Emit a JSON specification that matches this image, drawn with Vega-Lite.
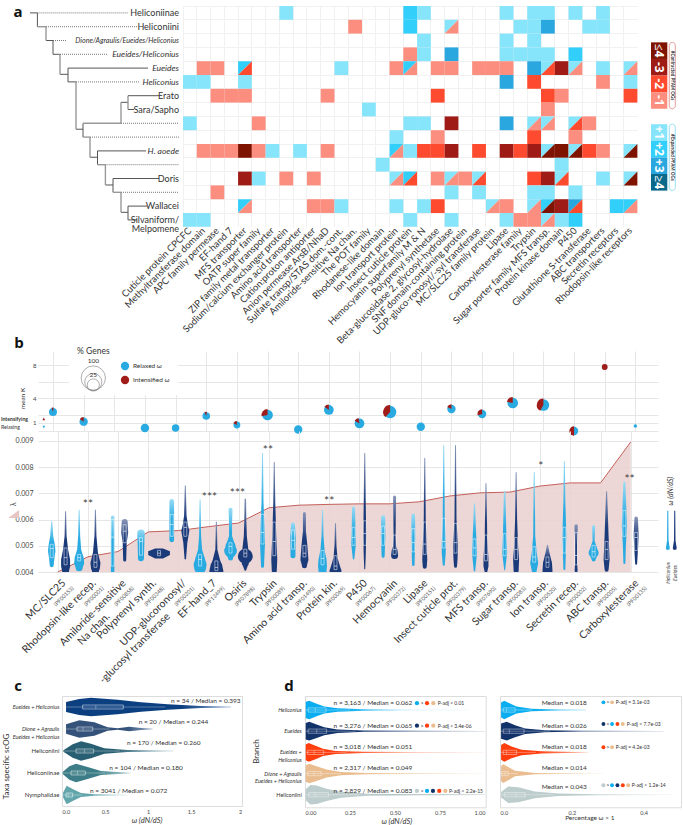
{"$schema":"https://vega.github.io/schema/vega-lite/v6.json","padding":{"left":0,"top":3,"right":0,"bottom":0},"background":"white","bounds":"flush","spacing":345,
"config":{"view":{"stroke":null},"text":{"font":"Lato","fill":"#333"},"axis":{"labelFont":"Lato","labelColor":"#444","title":null,"ticks":false,"domain":false}},
"datasets":{
"heat":[{"r":0,"c":7,"v":"+1","p":"s"},{"r":0,"c":16,"v":"+2","p":"s"},{"r":0,"c":17,"v":"+1","p":"s"},{"r":0,"c":23,"v":"+1","p":"s"},{"r":0,"c":25,"v":"+1","p":"s"},{"r":0,"c":26,"v":"+1","p":"s"},{"r":0,"c":28,"v":"+1","p":"s"},{"r":0,"c":30,"v":"+1","p":"s"},
{"r":1,"c":12,"v":"-1","p":"s"},{"r":1,"c":16,"v":"+2","p":"s"},{"r":1,"c":19,"v":"+1","p":"t"},{"r":1,"c":19,"v":"-1","p":"b"},{"r":1,"c":24,"v":"+1","p":"s"},{"r":1,"c":25,"v":"+1","p":"s"},{"r":1,"c":26,"v":"+3","p":"s"},{"r":1,"c":29,"v":"+1","p":"s"},{"r":1,"c":30,"v":"+1","p":"s"},
{"r":2,"c":17,"v":"+1","p":"s"},{"r":2,"c":23,"v":"+1","p":"s"},{"r":2,"c":25,"v":"+1","p":"s"},
{"r":3,"c":16,"v":"-1","p":"s"},{"r":3,"c":17,"v":"+1","p":"s"},{"r":3,"c":19,"v":"+3","p":"s"},{"r":3,"c":23,"v":"+1","p":"s"},{"r":3,"c":24,"v":"+1","p":"s"},{"r":3,"c":25,"v":"+1","p":"s"},{"r":3,"c":26,"v":"+1","p":"s"},{"r":3,"c":28,"v":"+2","p":"s"},
{"r":4,"c":1,"v":"-1","p":"s"},{"r":4,"c":2,"v":"-1","p":"s"},{"r":4,"c":4,"v":"+2","p":"t"},{"r":4,"c":4,"v":"-2","p":"b"},{"r":4,"c":11,"v":"+1","p":"s"},{"r":4,"c":15,"v":"-1","p":"s"},{"r":4,"c":16,"v":"+2","p":"t"},{"r":4,"c":16,"v":"-1","p":"b"},{"r":4,"c":18,"v":"-1","p":"s"},{"r":4,"c":19,"v":"-1","p":"s"},{"r":4,"c":21,"v":"-1","p":"s"},{"r":4,"c":22,"v":"-1","p":"s"},{"r":4,"c":23,"v":"-1","p":"s"},{"r":4,"c":25,"v":"+3","p":"s"},{"r":4,"c":26,"v":"+1","p":"t"},{"r":4,"c":26,"v":"-2","p":"b"},{"r":4,"c":27,"v":"-3","p":"s"},{"r":4,"c":28,"v":"+1","p":"t"},{"r":4,"c":28,"v":"-1","p":"b"},{"r":4,"c":30,"v":"+1","p":"s"},{"r":4,"c":32,"v":"+1","p":"t"},{"r":4,"c":32,"v":"-1","p":"b"},
{"r":5,"c":0,"v":"+1","p":"s"},{"r":5,"c":1,"v":"+1","p":"s"},{"r":5,"c":4,"v":"+1","p":"s"},{"r":5,"c":23,"v":"+3","p":"s"},{"r":5,"c":25,"v":"-2","p":"s"},{"r":5,"c":30,"v":"-1","p":"s"},{"r":5,"c":32,"v":"+1","p":"s"},
{"r":6,"c":2,"v":"-1","p":"s"},{"r":6,"c":3,"v":"-1","p":"s"},{"r":6,"c":4,"v":"-1","p":"s"},{"r":6,"c":10,"v":"-1","p":"s"},{"r":6,"c":18,"v":"-2","p":"s"},{"r":6,"c":26,"v":"-2","p":"s"},{"r":6,"c":27,"v":"-1","p":"s"},{"r":6,"c":32,"v":"-2","p":"s"},
{"r":7,"c":13,"v":"+1","p":"s"},{"r":7,"c":26,"v":"-1","p":"s"},
{"r":8,"c":0,"v":"+1","p":"s"},{"r":8,"c":5,"v":"-1","p":"s"},{"r":8,"c":16,"v":"+1","p":"s"},{"r":8,"c":17,"v":"+1","p":"s"},{"r":8,"c":19,"v":"-3","p":"s"},{"r":8,"c":23,"v":"+3","p":"s"},{"r":8,"c":25,"v":"+1","p":"t"},{"r":8,"c":25,"v":"-1","p":"b"},{"r":8,"c":26,"v":"+1","p":"t"},{"r":8,"c":26,"v":"-1","p":"b"},{"r":8,"c":28,"v":"+1","p":"t"},{"r":8,"c":28,"v":"-2","p":"b"},{"r":8,"c":29,"v":"-1","p":"s"},
{"r":9,"c":15,"v":"+1","p":"s"},{"r":9,"c":18,"v":"-1","p":"s"},{"r":9,"c":25,"v":"-2","p":"s"},{"r":9,"c":28,"v":"-1","p":"s"},
{"r":10,"c":1,"v":"-1","p":"s"},{"r":10,"c":2,"v":"-1","p":"s"},{"r":10,"c":3,"v":"-1","p":"s"},{"r":10,"c":4,"v":"-4","p":"s"},{"r":10,"c":5,"v":"-1","p":"s"},{"r":10,"c":6,"v":"+1","p":"s"},{"r":10,"c":8,"v":"+1","p":"s"},{"r":10,"c":10,"v":"-1","p":"s"},{"r":10,"c":15,"v":"+2","p":"t"},{"r":10,"c":15,"v":"-1","p":"b"},{"r":10,"c":16,"v":"+1","p":"s"},{"r":10,"c":17,"v":"-2","p":"s"},{"r":10,"c":18,"v":"-2","p":"s"},{"r":10,"c":19,"v":"-3","p":"s"},{"r":10,"c":21,"v":"-2","p":"s"},{"r":10,"c":23,"v":"-3","p":"s"},{"r":10,"c":24,"v":"-2","p":"s"},{"r":10,"c":25,"v":"-3","p":"s"},{"r":10,"c":26,"v":"+1","p":"t"},{"r":10,"c":26,"v":"-4","p":"b"},{"r":10,"c":27,"v":"-4","p":"s"},{"r":10,"c":28,"v":"+1","p":"t"},{"r":10,"c":28,"v":"-4","p":"b"},{"r":10,"c":29,"v":"-2","p":"s"},{"r":10,"c":30,"v":"-1","p":"s"},{"r":10,"c":32,"v":"+1","p":"t"},{"r":10,"c":32,"v":"-4","p":"b"},
{"r":11,"c":14,"v":"+1","p":"s"},{"r":11,"c":27,"v":"+1","p":"s"},
{"r":12,"c":4,"v":"-3","p":"s"},{"r":12,"c":5,"v":"+1","p":"s"},{"r":12,"c":7,"v":"-1","p":"s"},{"r":12,"c":9,"v":"-1","p":"s"},{"r":12,"c":15,"v":"+1","p":"t"},{"r":12,"c":15,"v":"-1","p":"b"},{"r":12,"c":16,"v":"+2","p":"t"},{"r":12,"c":16,"v":"-2","p":"b"},{"r":12,"c":18,"v":"-1","p":"s"},{"r":12,"c":19,"v":"+1","p":"t"},{"r":12,"c":19,"v":"-1","p":"b"},{"r":12,"c":20,"v":"-1","p":"s"},{"r":12,"c":21,"v":"+1","p":"t"},{"r":12,"c":21,"v":"-2","p":"b"},{"r":12,"c":25,"v":"-2","p":"s"},{"r":12,"c":26,"v":"-3","p":"s"},{"r":12,"c":27,"v":"+1","p":"t"},{"r":12,"c":27,"v":"-2","p":"b"},{"r":12,"c":30,"v":"+1","p":"s"},{"r":12,"c":32,"v":"+1","p":"t"},{"r":12,"c":32,"v":"-4","p":"b"},
{"r":13,"c":2,"v":"-1","p":"s"},{"r":13,"c":19,"v":"+1","p":"s"},{"r":13,"c":21,"v":"+1","p":"s"},{"r":13,"c":25,"v":"+1","p":"s"},{"r":13,"c":26,"v":"+1","p":"s"},{"r":13,"c":28,"v":"+1","p":"s"},
{"r":14,"c":4,"v":"+2","p":"t"},{"r":14,"c":4,"v":"-1","p":"b"},{"r":14,"c":9,"v":"-1","p":"s"},{"r":14,"c":10,"v":"-1","p":"s"},{"r":14,"c":11,"v":"+1","p":"s"},{"r":14,"c":15,"v":"+1","p":"s"},{"r":14,"c":17,"v":"+1","p":"s"},{"r":14,"c":18,"v":"-2","p":"s"},{"r":14,"c":22,"v":"+1","p":"t"},{"r":14,"c":22,"v":"-1","p":"b"},{"r":14,"c":23,"v":"-1","p":"s"},{"r":14,"c":25,"v":"+1","p":"t"},{"r":14,"c":25,"v":"-1","p":"b"},{"r":14,"c":26,"v":"+2","p":"t"},{"r":14,"c":26,"v":"-4","p":"b"},{"r":14,"c":27,"v":"-3","p":"s"},{"r":14,"c":28,"v":"+3","p":"t"},{"r":14,"c":28,"v":"-2","p":"b"},{"r":14,"c":31,"v":"+2","p":"s"},{"r":14,"c":32,"v":"+2","p":"t"},{"r":14,"c":32,"v":"-1","p":"b"},
{"r":15,"c":0,"v":"+1","p":"s"},{"r":15,"c":1,"v":"+1","p":"s"},{"r":15,"c":16,"v":"+1","p":"s"},{"r":15,"c":19,"v":"+1","p":"s"},{"r":15,"c":23,"v":"+1","p":"s"},{"r":15,"c":24,"v":"-1","p":"s"},{"r":15,"c":25,"v":"-1","p":"s"},{"r":15,"c":26,"v":"+1","p":"t"},{"r":15,"c":26,"v":"-1","p":"b"},{"r":15,"c":27,"v":"+1","p":"s"},{"r":15,"c":28,"v":"+2","p":"s"}],
"tree":[{"x":29,"x2":36.4,"y":0,"y2":0,"k":"d"},{"x":36.4,"x2":36.4,"y":0,"y2":1,"k":"d"},{"x":36.4,"x2":127,"y":0,"y2":0,"k":"o"},{"x":36.4,"x2":45,"y":1,"y2":1,"k":"g"},{"x":45,"x2":136,"y":1,"y2":1,"k":"o"},{"x":45,"x2":45,"y":1,"y2":2,"k":"g"},{"x":45,"x2":52,"y":2,"y2":2,"k":"d"},{"x":52,"x2":66,"y":2,"y2":2,"k":"o"},{"x":52,"x2":52,"y":2,"y2":3,"k":"d"},{"x":52,"x2":59,"y":3,"y2":3,"k":"d"},{"x":59,"x2":107,"y":3,"y2":3,"k":"o"},{"x":59,"x2":59,"y":3,"y2":4.45,"k":"g"},{"x":59,"x2":67,"y":4.45,"y2":4.45,"k":"d"},{"x":67,"x2":67,"y":4,"y2":5,"k":"d"},{"x":67,"x2":147,"y":4,"y2":4,"k":"d"},{"x":67,"x2":75,"y":5,"y2":5,"k":"d"},{"x":75,"x2":138,"y":5,"y2":5,"k":"o"},{"x":75,"x2":75,"y":5,"y2":8.43,"k":"g"},{"x":75,"x2":82,"y":8.43,"y2":8.43,"k":"d"},{"x":82,"x2":82,"y":8,"y2":9,"k":"d"},{"x":82,"x2":120,"y":8,"y2":8,"k":"g"},{"x":120,"x2":178,"y":8,"y2":8,"k":"o"},{"x":120,"x2":120,"y":6.48,"y2":8,"k":"g"},{"x":120,"x2":127,"y":6.48,"y2":6.48,"k":"d"},{"x":127,"x2":127,"y":6,"y2":7,"k":"g"},{"x":127,"x2":158,"y":6,"y2":6,"k":"d"},{"x":127,"x2":133,"y":7,"y2":7,"k":"d"},{"x":82,"x2":89,"y":9,"y2":9,"k":"g"},{"x":89,"x2":178,"y":9,"y2":9,"k":"o"},{"x":89,"x2":89,"y":9,"y2":10.46,"k":"g"},{"x":89,"x2":96.5,"y":10.46,"y2":10.46,"k":"d"},{"x":96.5,"x2":96.5,"y":10,"y2":11,"k":"d"},{"x":96.5,"x2":145,"y":10,"y2":10,"k":"d"},{"x":96.5,"x2":104.4,"y":11,"y2":11,"k":"g"},{"x":104.4,"x2":178,"y":11,"y2":11,"k":"o"},{"x":104.4,"x2":104.4,"y":11,"y2":12.47,"k":"g"},{"x":104.4,"x2":112,"y":12.47,"y2":12.47,"k":"d"},{"x":112,"x2":112,"y":12,"y2":13,"k":"d"},{"x":112,"x2":158,"y":12,"y2":12,"k":"d"},{"x":112,"x2":120,"y":13,"y2":13,"k":"g"},{"x":120,"x2":178,"y":13,"y2":13,"k":"o"},{"x":120,"x2":120,"y":13,"y2":14.45,"k":"g"},{"x":120,"x2":127,"y":14.45,"y2":14.45,"k":"d"},{"x":127,"x2":127,"y":14,"y2":15,"k":"d"},{"x":127,"x2":146,"y":14,"y2":14,"k":"d"},{"x":127,"x2":136,"y":15,"y2":15,"k":"d"}],
"ribbon":[{"p":0,"l":0.004,"b":0.004,"s":"r"},{"p":1,"l":0.00458,"b":0.004,"s":"r"},{"p":2,"l":0.00478,"b":0.004,"s":"r"},{"p":3,"l":0.00553,"b":0.004,"s":"r"},{"p":4,"l":0.00558,"b":0.004,"s":"r"},{"p":5,"l":0.00573,"b":0.004,"s":"r"},{"p":6,"l":0.00587,"b":0.004,"s":"r"},{"p":7,"l":0.00645,"b":0.004,"s":"r"},{"p":8,"l":0.00655,"b":0.004,"s":"r"},{"p":9,"l":0.00658,"b":0.004,"s":"r"},{"p":10,"l":0.0066,"b":0.004,"s":"r"},{"p":11,"l":0.0066,"b":0.004,"s":"r"},{"p":12,"l":0.00668,"b":0.004,"s":"r"},{"p":13,"l":0.0069,"b":0.004,"s":"r"},{"p":14,"l":0.00702,"b":0.004,"s":"r"},{"p":15,"l":0.00705,"b":0.004,"s":"r"},{"p":16,"l":0.00728,"b":0.004,"s":"r"},{"p":17,"l":0.0074,"b":0.004,"s":"r"},{"p":18,"l":0.0074,"b":0.004,"s":"r"},{"p":19,"l":0.00896,"b":0.004,"s":"r"}],
"viol":[{"p":-0.2,"g":"H","v":0.192,"w":1},{"p":-0.2,"g":"H","v":0.136,"w":3},{"p":-0.2,"g":"H","v":0.104,"w":6},{"p":-0.2,"g":"H","v":0.078,"w":7.5},{"p":-0.2,"g":"H","v":0.045,"w":5},{"p":-0.2,"g":"H","v":0.023,"w":4},
{"p":0.26,"g":"E","v":0.231,"w":1},{"p":0.26,"g":"E","v":0.136,"w":2},{"p":0.26,"g":"E","v":0.084,"w":5},{"p":0.26,"g":"E","v":0.045,"w":9},{"p":0.26,"g":"E","v":0.019,"w":9},{"p":0.26,"g":"E","v":0.002,"w":7},
{"p":0.71,"g":"H","v":0.237,"w":1},{"p":0.71,"g":"H","v":0.136,"w":2},{"p":0.71,"g":"H","v":0.084,"w":4},{"p":0.71,"g":"H","v":0.052,"w":9},{"p":0.71,"g":"H","v":0.032,"w":10},{"p":0.71,"g":"H","v":0.013,"w":7},
{"p":1.25,"g":"E","v":0.237,"w":1},{"p":1.25,"g":"E","v":0.136,"w":2},{"p":1.25,"g":"E","v":0.071,"w":5},{"p":1.25,"g":"E","v":0.032,"w":10},{"p":1.25,"g":"E","v":0.013,"w":9},{"p":1.25,"g":"E","v":0.002,"w":7},
{"p":1.82,"g":"H","v":0.209,"w":3.5},{"p":1.82,"g":"H","v":0.1,"w":3.5},{"p":1.82,"g":"H","v":0,"w":3.5},
{"p":2.22,"g":"E","v":0.19,"w":6},{"p":2.22,"g":"E","v":0.15,"w":7},{"p":2.22,"g":"E","v":0.11,"w":4},{"p":2.22,"g":"E","v":0.043,"w":3},
{"p":2.76,"g":"H","v":0.147,"w":7.5},{"p":2.76,"g":"H","v":0.097,"w":6.5},{"p":2.76,"g":"H","v":0.05,"w":6},
{"p":3.78,"g":"H","v":0.27,"w":4.7},{"p":3.78,"g":"H","v":0.17,"w":4.7},{"p":3.78,"g":"H","v":0.121,"w":4.7},
{"p":4.23,"g":"E","v":0.33,"w":1},{"p":4.23,"g":"E","v":0.214,"w":2.5},{"p":4.23,"g":"E","v":0.181,"w":5},{"p":4.23,"g":"E","v":0.155,"w":8},{"p":4.23,"g":"E","v":0.11,"w":4},{"p":4.23,"g":"E","v":0.048,"w":1.5},
{"p":4.72,"g":"H","v":0.276,"w":1},{"p":4.72,"g":"H","v":0.136,"w":2},{"p":4.72,"g":"H","v":0.084,"w":4},{"p":4.72,"g":"H","v":0.045,"w":10},{"p":4.72,"g":"H","v":0.026,"w":13},{"p":4.72,"g":"H","v":0.013,"w":12},
{"p":5.26,"g":"E","v":0.19,"w":1},{"p":5.26,"g":"E","v":0.084,"w":2},{"p":5.26,"g":"E","v":0.045,"w":7},{"p":5.26,"g":"E","v":0.019,"w":12},{"p":5.26,"g":"E","v":0.002,"w":14},
{"p":5.73,"g":"H","v":0.238,"w":4},{"p":5.73,"g":"H","v":0.188,"w":3},{"p":5.73,"g":"H","v":0.136,"w":3},{"p":5.73,"g":"H","v":0.097,"w":10},{"p":5.73,"g":"H","v":0.078,"w":12.7},{"p":5.73,"g":"H","v":0.051,"w":5},
{"p":6.22,"g":"E","v":0.278,"w":1.5},{"p":6.22,"g":"E","v":0.2,"w":2},{"p":6.22,"g":"E","v":0.136,"w":3},{"p":6.22,"g":"E","v":0.084,"w":6},{"p":6.22,"g":"E","v":0.058,"w":15},{"p":6.22,"g":"E","v":0.032,"w":7},{"p":6.22,"g":"E","v":0.006,"w":2},
{"p":6.79,"g":"H","v":0.456,"w":1},{"p":6.79,"g":"H","v":0.266,"w":2},{"p":6.79,"g":"H","v":0.175,"w":4},{"p":6.79,"g":"H","v":0.11,"w":5},{"p":6.79,"g":"H","v":0.019,"w":3},
{"p":7.18,"g":"E","v":0.421,"w":1},{"p":7.18,"g":"E","v":0.266,"w":2},{"p":7.18,"g":"E","v":0.136,"w":4},{"p":7.18,"g":"E","v":0.045,"w":6},{"p":7.18,"g":"E","v":0.002,"w":5},
{"p":7.8,"g":"H","v":0.181,"w":4},{"p":7.8,"g":"H","v":0.13,"w":5.5},{"p":7.8,"g":"H","v":0.1,"w":5},{"p":7.8,"g":"H","v":0.06,"w":5},
{"p":8.18,"g":"E","v":0.223,"w":3},{"p":8.18,"g":"E","v":0.155,"w":3},{"p":8.18,"g":"E","v":0.097,"w":6},{"p":8.18,"g":"E","v":0.045,"w":8},{"p":8.18,"g":"E","v":0.021,"w":5},
{"p":8.78,"g":"H","v":0.236,"w":1},{"p":8.78,"g":"H","v":0.136,"w":2},{"p":8.78,"g":"H","v":0.084,"w":4},{"p":8.78,"g":"H","v":0.045,"w":8},{"p":8.78,"g":"H","v":0.019,"w":9},{"p":8.78,"g":"H","v":0.002,"w":8},
{"p":9.21,"g":"E","v":0.184,"w":1},{"p":9.21,"g":"E","v":0.097,"w":2},{"p":9.21,"g":"E","v":0.052,"w":4},{"p":9.21,"g":"E","v":0.019,"w":9},{"p":9.21,"g":"E","v":0.003,"w":12},
{"p":9.81,"g":"H","v":0.244,"w":3},{"p":9.81,"g":"H","v":0.136,"w":4},{"p":9.81,"g":"H","v":0.11,"w":5},{"p":9.81,"g":"H","v":0.048,"w":1.5},
{"p":10.18,"g":"E","v":0.456,"w":1},{"p":10.18,"g":"E","v":0.266,"w":2},{"p":10.18,"g":"E","v":0.136,"w":3},{"p":10.18,"g":"E","v":0.058,"w":2},{"p":10.18,"g":"E","v":0.01,"w":1},
{"p":10.79,"g":"H","v":0.209,"w":4},{"p":10.79,"g":"H","v":0.136,"w":4.5},{"p":10.79,"g":"H","v":0.058,"w":3},
{"p":11.17,"g":"E","v":0.287,"w":3},{"p":11.17,"g":"E","v":0.142,"w":2},{"p":11.17,"g":"E","v":0.097,"w":3},{"p":11.17,"g":"E","v":0.078,"w":6},{"p":11.17,"g":"E","v":0.061,"w":7},
{"p":11.79,"g":"H","v":0.216,"w":3.5},{"p":11.79,"g":"H","v":0.136,"w":4},{"p":11.79,"g":"H","v":0.025,"w":2.5},
{"p":12.17,"g":"E","v":0.437,"w":1},{"p":12.17,"g":"E","v":0.201,"w":2},{"p":12.17,"g":"E","v":0.097,"w":4},{"p":12.17,"g":"E","v":0.045,"w":5},{"p":12.17,"g":"E","v":0.017,"w":4},
{"p":12.8,"g":"H","v":0.486,"w":1},{"p":12.8,"g":"H","v":0.214,"w":2},{"p":12.8,"g":"H","v":0.11,"w":4},{"p":12.8,"g":"H","v":0.071,"w":4},{"p":12.8,"g":"H","v":0.025,"w":2},
{"p":13.19,"g":"E","v":0.486,"w":1},{"p":13.19,"g":"E","v":0.201,"w":2},{"p":13.19,"g":"E","v":0.097,"w":5},{"p":13.19,"g":"E","v":0.045,"w":4},{"p":13.19,"g":"E","v":0.019,"w":3},
{"p":13.82,"g":"H","v":0.262,"w":1},{"p":13.82,"g":"H","v":0.136,"w":3.5},{"p":13.82,"g":"H","v":0.071,"w":5},{"p":13.82,"g":"H","v":0.002,"w":1.5},
{"p":14.2,"g":"E","v":0.339,"w":1},{"p":14.2,"g":"E","v":0.136,"w":2.5},{"p":14.2,"g":"E","v":0.045,"w":5},{"p":14.2,"g":"E","v":0.019,"w":5},{"p":14.2,"g":"E","v":0.001,"w":3},
{"p":14.82,"g":"H","v":0.307,"w":1.5},{"p":14.82,"g":"H","v":0.136,"w":3.5},{"p":14.82,"g":"H","v":0.071,"w":5},{"p":14.82,"g":"H","v":0.006,"w":1},
{"p":15.2,"g":"E","v":0.382,"w":1},{"p":15.2,"g":"E","v":0.201,"w":2},{"p":15.2,"g":"E","v":0.097,"w":4},{"p":15.2,"g":"E","v":0.045,"w":6},{"p":15.2,"g":"E","v":0.002,"w":5},
{"p":15.8,"g":"H","v":0.382,"w":1},{"p":15.8,"g":"H","v":0.136,"w":2},{"p":15.8,"g":"H","v":0.071,"w":5},{"p":15.8,"g":"H","v":0.032,"w":8},{"p":15.8,"g":"H","v":0.003,"w":5},
{"p":16.24,"g":"E","v":0.1,"w":1},{"p":16.24,"g":"E","v":0.071,"w":4},{"p":16.24,"g":"E","v":0.032,"w":9},{"p":16.24,"g":"E","v":0.002,"w":10},
{"p":16.8,"g":"H","v":0.424,"w":1},{"p":16.8,"g":"H","v":0.266,"w":2},{"p":16.8,"g":"H","v":0.136,"w":4},{"p":16.8,"g":"H","v":0.071,"w":3},{"p":16.8,"g":"H","v":0.009,"w":2},
{"p":17.19,"g":"E","v":0.175,"w":3.5},{"p":17.19,"g":"E","v":0.11,"w":2},{"p":17.19,"g":"E","v":0.032,"w":2},{"p":17.19,"g":"E","v":0.002,"w":3},
{"p":17.77,"g":"H","v":0.173,"w":3},{"p":17.77,"g":"H","v":0.117,"w":2},{"p":17.77,"g":"H","v":0.071,"w":10},{"p":17.77,"g":"H","v":0.045,"w":4},
{"p":18.2,"g":"E","v":0.308,"w":1},{"p":18.2,"g":"E","v":0.136,"w":4},{"p":18.2,"g":"E","v":0.045,"w":6},{"p":18.2,"g":"E","v":0.006,"w":4},
{"p":18.79,"g":"H","v":0.343,"w":2},{"p":18.79,"g":"H","v":0.24,"w":4},{"p":18.79,"g":"H","v":0.175,"w":5},{"p":18.79,"g":"H","v":0.097,"w":3},{"p":18.79,"g":"H","v":0.032,"w":2},
{"p":19.18,"g":"E","v":0.205,"w":3.5},{"p":19.18,"g":"E","v":0.142,"w":5},{"p":19.18,"g":"E","v":0.097,"w":4},{"p":19.18,"g":"E","v":0.029,"w":2}],
"box":[{"p":-0.2,"q":0.052,"m":0.087,"h":0.104},{"p":0.26,"q":0.025,"m":0.052,"h":0.09},{"p":0.71,"q":0.04,"m":0.052,"h":0.065},{"p":1.25,"q":0.015,"m":0.035,"h":0.065},{"p":1.82,"q":0.02,"m":0.132,"h":0.2},{"p":2.22,"q":0.11,"m":0.155,"h":0.18},{"p":2.76,"q":0.062,"m":0.115,"h":0.13},{"p":3.36,"q":0.06,"m":0.07,"h":0.08},{"p":3.78,"q":0.135,"m":0.18,"h":0.22},{"p":4.23,"q":0.135,"m":0.17,"h":0.19},{"p":4.72,"q":0.02,"m":0.045,"h":0.065},{"p":5.26,"q":0.002,"m":0.015,"h":0.04},{"p":5.73,"q":0.07,"m":0.095,"h":0.11},{"p":6.22,"q":0.055,"m":0.07,"h":0.085},{"p":6.79,"q":0.105,"m":0.15,"h":0.22},{"p":7.18,"q":0.06,"m":0.115,"h":0.19},{"p":7.8,"q":0.085,"m":0.12,"h":0.16},{"p":8.18,"q":0.055,"m":0.07,"h":0.1},{"p":8.78,"q":0.025,"m":0.05,"h":0.08},{"p":9.21,"q":0.006,"m":0.02,"h":0.06},{"p":9.81,"q":0.1,"m":0.13,"h":0.17},{"p":10.18,"q":0.1,"m":0.145,"h":0.195},{"p":10.79,"q":0.1,"m":0.145,"h":0.175},{"p":11.17,"q":0.065,"m":0.085,"h":0.14},{"p":11.79,"q":0.075,"m":0.11,"h":0.165},{"p":12.17,"q":0.065,"m":0.105,"h":0.19},{"p":12.8,"q":0.09,"m":0.115,"h":0.205},{"p":13.19,"q":0.07,"m":0.11,"h":0.185},{"p":13.82,"q":0.06,"m":0.09,"h":0.125},{"p":14.2,"q":0.04,"m":0.065,"h":0.14},{"p":14.82,"q":0.06,"m":0.085,"h":0.145},{"p":15.2,"q":0.045,"m":0.085,"h":0.13},{"p":15.8,"q":0.035,"m":0.055,"h":0.095},{"p":16.24,"q":0.015,"m":0.035,"h":0.055},{"p":16.8,"q":0.07,"m":0.13,"h":0.17},{"p":17.19,"q":0.025,"m":0.06,"h":0.15},{"p":17.77,"q":0.055,"m":0.075,"h":0.1},{"p":18.2,"q":0.045,"m":0.085,"h":0.115},{"p":18.79,"q":0.135,"m":0.175,"h":0.235},{"p":19.18,"q":0.08,"m":0.13,"h":0.15}],
"lab":[{"p":0,"l":0.00339,"t":"MC/SLC25","f":"(PF00153)"},{"p":1,"l":0.00339,"t":"Rhodopsin-like recep.","f":"(PF00001)"},{"p":2,"l":0.00339,"t":"Amiloride-sensitive","t2":"Na chan.","f":"(PF00858)"},{"p":3,"l":0.00339,"t":"Polyprenyl synth.","f":"(PF00348)"},{"p":4,"l":0.00339,"t":"UDP-glucoronosyl/","t2":"-glucosyl transferase","f":"(PF00201)"},{"p":5,"l":0.00339,"t":"EF-hand_7","f":"(PF13499)"},{"p":6,"l":0.00339,"t":"Osiris","f":"(PF07898)"},{"p":7,"l":0.00339,"t":"Trypsin","f":"(PF00089)"},{"p":8,"l":0.00339,"t":"Amino acid transp.","f":"(PF01490)"},{"p":9,"l":0.00339,"t":"Protein kin.","f":"(PF00069)"},{"p":10,"l":0.00339,"t":"P450","f":"(PF00067)"},{"p":11,"l":0.00339,"t":"Hemocyanin","f":"(PF00372)"},{"p":12,"l":0.00339,"t":"Lipase","f":"(PF00151)"},{"p":13,"l":0.00339,"t":"Insect cuticle prot.","f":"(PF00379)"},{"p":14,"l":0.00339,"t":"MFS transp.","f":"(PF07690)"},{"p":15,"l":0.00339,"t":"Sugar transp.","f":"(PF00083)"},{"p":16,"l":0.00339,"t":"Ion transp.","f":"(PF00520)"},{"p":17,"l":0.00339,"t":"Secretin recep.","f":"(PF00002)"},{"p":18,"l":0.00339,"t":"ABC transp.","f":"(PF00005)"},{"p":19,"l":0.00339,"t":"Carboxylesterase","f":"(PF00135)"}],
"pies":[{"p":0,"k":2.3,"s":10.8,"a0":95,"a1":102},{"p":1,"k":1.13,"s":11.8,"a0":85,"a1":100},{"p":3,"k":0.36,"s":12.3,"a0":0,"a1":0},{"p":4,"k":0.36,"s":9.4,"a0":0,"a1":0},{"p":5,"k":1.82,"s":9.9,"a0":93,"a1":102},{"p":6,"k":0.73,"s":8.1,"a0":82,"a1":100},{"p":7,"k":1.94,"s":19.2,"a0":72,"a1":100},{"p":8,"k":0.18,"s":11.8,"a0":0,"a1":0},{"p":9,"k":2.55,"s":16.1,"a0":85,"a1":100},{"p":10,"k":0.91,"s":16.1,"a0":83,"a1":97},{"p":11,"k":2.3,"s":26,"a0":62,"a1":100},{"p":12,"k":0.52,"s":11.8,"a0":0,"a1":0},{"p":13,"k":2.67,"s":11.8,"a0":82,"a1":100},{"p":14,"k":2.06,"s":11.8,"a0":70,"a1":100},{"p":15,"k":3.4,"s":19.2,"a0":78,"a1":100},{"p":16,"k":3.15,"s":23.2,"a0":58,"a1":100},{"p":17,"k":0,"s":11.8,"a0":50,"a1":100},{"p":18,"k":7.76,"s":4.5,"a0":0,"a1":100},{"p":19,"k":0.6,"s":2.1,"a0":0,"a1":0}],
"cv":[{"i":0,"x":0.047,"y":0.273,"y2":0.727},{"i":0,"x":0.2,"y":0.136,"y2":0.864},{"i":0,"x":0.337,"y":0.076,"y2":0.924},{"i":0,"x":0.647,"y":0.167,"y2":0.833},{"i":0,"x":0.919,"y":0.288,"y2":0.712},{"i":0,"x":1.229,"y":0.379,"y2":0.621},{"i":0,"x":1.616,"y":0.455,"y2":0.545},{"i":0,"x":1.965,"y":0.485,"y2":0.515},
{"i":1,"x":0.047,"y":1.288,"y2":1.712},{"i":1,"x":0.202,"y":1.106,"y2":1.894},{"i":1,"x":0.376,"y":1.197,"y2":1.803},{"i":1,"x":0.531,"y":1.424,"y2":1.576},{"i":1,"x":0.647,"y":1.47,"y2":1.53},{"i":1,"x":0.783,"y":1.394,"y2":1.606},{"i":1,"x":0.919,"y":1.455,"y2":1.545},{"i":1,"x":1.054,"y":1.485,"y2":1.515},
{"i":2,"x":0.016,"y":2.47,"y2":2.53},{"i":2,"x":0.124,"y":2.197,"y2":2.803},{"i":2,"x":0.221,"y":2.06,"y2":2.94},{"i":2,"x":0.337,"y":2.167,"y2":2.833},{"i":2,"x":0.492,"y":2.379,"y2":2.621},{"i":2,"x":0.764,"y":2.455,"y2":2.545},{"i":2,"x":1.295,"y":2.49,"y2":2.51},
{"i":3,"x":0.008,"y":3.455,"y2":3.545},{"i":3,"x":0.085,"y":3.197,"y2":3.803},{"i":3,"x":0.163,"y":3.076,"y2":3.924},{"i":3,"x":0.298,"y":3.227,"y2":3.773},{"i":3,"x":0.453,"y":3.41,"y2":3.59},{"i":3,"x":0.802,"y":3.485,"y2":3.515},
{"i":4,"x":0.012,"y":4.4,"y2":4.6},{"i":4,"x":0.027,"y":4.28,"y2":4.72},{"i":4,"x":0.054,"y":4.08,"y2":4.92},{"i":4,"x":0.124,"y":4.23,"y2":4.77},{"i":4,"x":0.221,"y":4.41,"y2":4.59},{"i":4,"x":0.376,"y":4.47,"y2":4.53},{"i":4,"x":0.764,"y":4.49,"y2":4.51}],
"cb":[{"k":"w","x":0.047,"x2":1.2,"y":0.5,"y2":0.5},{"k":"b","x":0.24,"x2":0.713,"y":0.41,"y2":0.59},{"k":"w","x":0.393,"x2":0.393,"y":0.41,"y2":0.59},{"k":"w","x":0.047,"x2":0.55,"y":1.5,"y2":1.5},{"k":"b","x":0.174,"x2":0.357,"y":1.41,"y2":1.59},{"k":"w","x":0.244,"x2":0.244,"y":1.41,"y2":1.59},{"k":"w","x":0.02,"x2":0.67,"y":2.5,"y2":2.5},{"k":"b","x":0.163,"x2":0.368,"y":2.41,"y2":2.59},{"k":"w","x":0.26,"x2":0.26,"y":2.41,"y2":2.59},{"k":"w","x":0.01,"x2":0.5,"y":3.5,"y2":3.5},{"k":"b","x":0.105,"x2":0.271,"y":3.41,"y2":3.59},{"k":"w","x":0.18,"x2":0.18,"y":3.41,"y2":3.59},{"k":"w","x":0.01,"x2":0.23,"y":4.5,"y2":4.5},{"k":"b","x":0.047,"x2":0.124,"y":4.41,"y2":4.59},{"k":"w","x":0.072,"x2":0.072,"y":4.41,"y2":4.59}],
"dv":[{"i":0,"x":0.004,"y":0.27,"y2":1.05},{"i":0,"x":0.024,"y":0.22,"y2":1.1},{"i":0,"x":0.061,"y":0.35,"y2":0.97},{"i":0,"x":0.107,"y":0.49,"y2":0.83},{"i":0,"x":0.181,"y":0.58,"y2":0.74},{"i":0,"x":0.33,"y":0.63,"y2":0.69},{"i":0,"x":0.607,"y":0.645,"y2":0.675},{"i":0,"x":0.913,"y":0.652,"y2":0.668},
{"i":1,"x":0.004,"y":1.27,"y2":2.05},{"i":1,"x":0.024,"y":1.22,"y2":2.1},{"i":1,"x":0.061,"y":1.33,"y2":1.99},{"i":1,"x":0.107,"y":1.47,"y2":1.85},{"i":1,"x":0.181,"y":1.58,"y2":1.74},{"i":1,"x":0.33,"y":1.63,"y2":1.69},{"i":1,"x":0.607,"y":1.645,"y2":1.675},{"i":1,"x":1,"y":1.652,"y2":1.668},
{"i":2,"x":0.004,"y":2.29,"y2":3.03},{"i":2,"x":0.02,"y":2.22,"y2":3.1},{"i":2,"x":0.055,"y":2.33,"y2":2.99},{"i":2,"x":0.1,"y":2.49,"y2":2.83},{"i":2,"x":0.17,"y":2.59,"y2":2.73},{"i":2,"x":0.33,"y":2.63,"y2":2.69},{"i":2,"x":0.6,"y":2.645,"y2":2.675},{"i":2,"x":1,"y":2.652,"y2":2.668},
{"i":3,"x":0.004,"y":3.27,"y2":4.05},{"i":3,"x":0.024,"y":3.2,"y2":4.12},{"i":3,"x":0.06,"y":3.3,"y2":4.02},{"i":3,"x":0.12,"y":3.47,"y2":3.85},{"i":3,"x":0.2,"y":3.58,"y2":3.74},{"i":3,"x":0.35,"y":3.63,"y2":3.69},{"i":3,"x":0.6,"y":3.645,"y2":3.675},{"i":3,"x":1,"y":3.652,"y2":3.668},
{"i":4,"x":0.004,"y":4.4,"y2":4.92},{"i":4,"x":0.03,"y":4.2,"y2":5.12},{"i":4,"x":0.065,"y":4.22,"y2":5.1},{"i":4,"x":0.12,"y":4.37,"y2":4.95},{"i":4,"x":0.2,"y":4.52,"y2":4.8},{"i":4,"x":0.35,"y":4.61,"y2":4.71},{"i":4,"x":0.6,"y":4.64,"y2":4.68},{"i":4,"x":1,"y":4.655,"y2":4.665}],
"db":[{"k":"w","x":0.005,"x2":0.25,"y":0.66,"y2":0.66},{"k":"b","x":0.018,"x2":0.117,"y":0.56,"y2":0.76},{"k":"w","x":0.057,"x2":0.057,"y":0.56,"y2":0.76},{"k":"w","x":0.005,"x2":0.28,"y":1.66,"y2":1.66},{"k":"b","x":0.017,"x2":0.12,"y":1.56,"y2":1.76},{"k":"w","x":0.065,"x2":0.065,"y":1.56,"y2":1.76},{"k":"w","x":0.005,"x2":0.23,"y":2.66,"y2":2.66},{"k":"b","x":0.015,"x2":0.104,"y":2.56,"y2":2.76},{"k":"w","x":0.051,"x2":0.051,"y":2.56,"y2":2.76},{"k":"w","x":0.005,"x2":0.2,"y":3.66,"y2":3.66},{"k":"b","x":0.015,"x2":0.09,"y":3.56,"y2":3.76},{"k":"w","x":0.049,"x2":0.049,"y":3.56,"y2":3.76},{"k":"w","x":0.005,"x2":0.3,"y":4.66,"y2":4.66},{"k":"b","x":0.02,"x2":0.13,"y":4.56,"y2":4.76},{"k":"w","x":0.055,"x2":0.055,"y":4.56,"y2":4.76}],
"ev":[{"i":0,"x":0.003,"y":0.31,"y2":1.01},{"i":0,"x":0.012,"y":0.22,"y2":1.1},{"i":0,"x":0.028,"y":0.35,"y2":0.97},{"i":0,"x":0.046,"y":0.5,"y2":0.82},{"i":0,"x":0.088,"y":0.6,"y2":0.72},{"i":0,"x":0.162,"y":0.636,"y2":0.684},{"i":0,"x":0.239,"y":0.652,"y2":0.668},
{"i":1,"x":0.003,"y":1.3,"y2":2.02},{"i":1,"x":0.019,"y":1.22,"y2":2.1},{"i":1,"x":0.042,"y":1.38,"y2":1.94},{"i":1,"x":0.07,"y":1.53,"y2":1.79},{"i":1,"x":0.125,"y":1.61,"y2":1.71},{"i":1,"x":0.227,"y":1.644,"y2":1.676},{"i":1,"x":0.455,"y":1.652,"y2":1.668},
{"i":2,"x":0.003,"y":2.31,"y2":3.01},{"i":2,"x":0.012,"y":2.22,"y2":3.1},{"i":2,"x":0.032,"y":2.38,"y2":2.94},{"i":2,"x":0.06,"y":2.53,"y2":2.79},{"i":2,"x":0.116,"y":2.61,"y2":2.71},{"i":2,"x":0.246,"y":2.652,"y2":2.668},
{"i":3,"x":0.003,"y":3.3,"y2":4.02},{"i":3,"x":0.009,"y":3.22,"y2":4.1},{"i":3,"x":0.023,"y":3.35,"y2":3.97},{"i":3,"x":0.042,"y":3.53,"y2":3.79},{"i":3,"x":0.097,"y":3.63,"y2":3.69},{"i":3,"x":0.288,"y":3.655,"y2":3.665},
{"i":4,"x":0.003,"y":4.53,"y2":4.79},{"i":4,"x":0.023,"y":4.27,"y2":5.05},{"i":4,"x":0.051,"y":4.31,"y2":5.01},{"i":4,"x":0.097,"y":4.5,"y2":4.82},{"i":4,"x":0.162,"y":4.6,"y2":4.72},{"i":4,"x":0.274,"y":4.636,"y2":4.684},{"i":4,"x":0.478,"y":4.655,"y2":4.665}],
"eb":[{"k":"w","x":0.003,"x2":0.09,"y":0.66,"y2":0.66},{"k":"b","x":0.009,"x2":0.042,"y":0.56,"y2":0.76},{"k":"w","x":0.018,"x2":0.018,"y":0.56,"y2":0.76},{"k":"w","x":0.003,"x2":0.14,"y":1.66,"y2":1.66},{"k":"b","x":0.009,"x2":0.067,"y":1.56,"y2":1.76},{"k":"w","x":0.026,"x2":0.026,"y":1.56,"y2":1.76},{"k":"w","x":0.003,"x2":0.1,"y":2.66,"y2":2.66},{"k":"b","x":0.009,"x2":0.046,"y":2.56,"y2":2.76},{"k":"w","x":0.018,"x2":0.018,"y":2.56,"y2":2.76},{"k":"w","x":0.003,"x2":0.05,"y":3.66,"y2":3.66},{"k":"b","x":0.005,"x2":0.023,"y":3.56,"y2":3.76},{"k":"w","x":0.014,"x2":0.014,"y":3.56,"y2":3.76},{"k":"w","x":0.003,"x2":0.15,"y":4.66,"y2":4.66},{"k":"b","x":0.012,"x2":0.07,"y":4.56,"y2":4.76},{"k":"w","x":0.044,"x2":0.044,"y":4.56,"y2":4.76}]
},
"vconcat":[
{"hconcat":[
{"width":181.3,"height":220.8,"encoding":{"x":{"field":"x","type":"quantitative","scale":{"domain":[0,181.3]},"axis":null},"y":{"field":"y","type":"quantitative","scale":{"domain":[-0.5,15.5],"reverse":true},"axis":null}},"layer":[
{"data":{"name":"tree"},"transform":[{"filter":"datum.k=='d'"}],"mark":{"type":"rule","stroke":"#555","strokeWidth":1},"encoding":{"x2":{"field":"x2"},"y2":{"field":"y2"}}},
{"data":{"name":"tree"},"transform":[{"filter":"datum.k=='g'"}],"mark":{"type":"rule","stroke":"#999","strokeWidth":1.4},"encoding":{"x2":{"field":"x2"},"y2":{"field":"y2"}}},
{"data":{"name":"tree"},"transform":[{"filter":"datum.k=='o'"}],"mark":{"type":"rule","stroke":"#555","strokeWidth":0.8,"strokeDash":[1,1]},"encoding":{"x2":{"field":"x2"},"y2":{"field":"y2"}}},
{"data":{"values":[{"x":178,"y":0,"t":"Heliconiinae"},{"x":178,"y":1,"t":"Heliconiini"},{"x":178,"y":6,"t":"Erato"},{"x":178,"y":7,"t":"Sara/Sapho"},{"x":178,"y":12,"t":"Doris"},{"x":178,"y":14,"t":"Wallacei"},{"x":178,"y":15,"t":"Silvaniform/|Melpomene"}]},"mark":{"type":"text","align":"right","baseline":"middle","fontSize":9,"lineBreak":"|","lineHeight":9.5},"encoding":{"text":{"field":"t"}}},
{"data":{"values":[{"x":178,"y":3,"t":"Eueides/Heliconius"},{"x":178,"y":4,"t":"Eueides"},{"x":178,"y":5,"t":"Heliconius"},{"x":178,"y":10,"t":"H. aoede"}]},"mark":{"type":"text","align":"right","baseline":"middle","fontSize":8.5,"fontStyle":"italic"},"encoding":{"text":{"field":"t"}}},
{"data":{"values":[{"x":178,"y":2,"t":"Dione/Agraulis/Eueides/Heliconius"}]},"mark":{"type":"text","align":"right","baseline":"middle","fontSize":7.2,"fontStyle":"italic"},"encoding":{"text":{"field":"t"}}},
{"data":{"values":[{"x":17,"y":-0.05,"t":"a"}]},"mark":{"type":"text","align":"center","baseline":"middle","fontSize":15,"fontWeight":"bold","font":"Open Sans","fill":"#111"},"encoding":{"text":{"field":"t"}}}
]},
{"width":454.4,"height":220.8,"data":{"name":"heat"},"mark":{"type":"point","filled":true,"size":189.6,"opacity":1,"strokeWidth":0},"encoding":{
"x":{"field":"c","type":"ordinal","scale":{"type":"band","domain":[0,1,2,3,4,5,6,7,8,9,10,11,12,13,14,15,16,17,18,19,20,21,22,23,24,25,26,27,28,29,30,31,32],"paddingInner":0,"paddingOuter":0},"axis":{"orient":"bottom","labelAngle":-45,"labelAlign":"right","labelBaseline":"middle","labelFontSize":9.5,"labelPadding":2,"labelLimit":400,"labelColor":"#333","grid":true,"bandPosition":0,"gridColor":"#f1f1f1","labelExpr":"['Cuticle protein CPCFC','Methyltransferase domain','APC family permease','EF-hand 7','MFS transporter','OATP super family','ZIP family metal transporter','Sodium/calcium exchanger protein','Amino acid transporter','Cation:proton antiporter','Anion permease ArsB/NhaD','Sulfate transp/STAS dom.-cont.','Amiloride-sensitive Na chan.','The POT family','Rhodanese-like domain','Ion transport protein','Insect cuticle protein','Hemocyanin superfamily M & N','Polyprenyl synthetase','Beta-glucosidase 2, glycosyl-hydrolase','SNF domain-containing protein','UDP-gluco-ronosyl/-syl transferase','MC/SLC25 family protein','Lipase','Carboxylesterase family','Trypsin','Sugar porter family MFS transp.','Protein kinase domain','P450','Glutathione S-transferase','ABC transporters','Secretin receptors','Rhodopsin-like receptors'][datum.value]"}},
"y":{"field":"r","type":"ordinal","scale":{"type":"band","domain":[0,1,2,3,4,5,6,7,8,9,10,11,12,13,14,15],"paddingInner":0,"paddingOuter":0},"axis":{"labels":false,"grid":true,"bandPosition":0,"gridColor":"#f1f1f1"}},
"color":{"field":"v","type":"nominal","scale":{"domain":["-4","-3","-2","-1","+1","+2","+3","+4","Hel","Eue","EH","DA","Hni"],"range":["#7e1300","#9e1b16","#fe4a2e","#fc8e80","#87e5fb","#33cffb","#2ba7e0","#0b6a8c","#0aaef0","#12326a","#ff3d0d","#e9bd8f","#bdcccc"]},"legend":null},
"shape":{"field":"p","type":"nominal","scale":{"domain":["s","t","b"],"range":["M-1,-1L1,-1L1,1L-1,1Z","M-1,-1L1,-1L-1,1Z","M1,-1L1,1L-1,1Z"]},"legend":null}}},
{"width":13,"height":1,"data":{"values":[{"a":1}]},"mark":{"type":"point","opacity":0},"encoding":{}},
{"width":34.3,"height":220.8,"encoding":{"x":{"field":"x","type":"quantitative","scale":{"domain":[0,2.104]},"axis":null},"y":{"field":"y","type":"quantitative","scale":{"domain":[0,13.3],"reverse":true},"axis":null}},"layer":[
{"data":{"values":[{"x":0,"x2":1,"y":2.19,"y2":3.19,"v":"-4"},{"x":0,"x2":1,"y":3.19,"y2":4.19,"v":"-3"},{"x":0,"x2":1,"y":4.19,"y2":5.19,"v":"-2"},{"x":0,"x2":1,"y":5.19,"y2":6.19,"v":"-1"},{"x":0,"x2":1,"y":7.12,"y2":8.12,"v":"+1"},{"x":0,"x2":1,"y":8.12,"y2":9.12,"v":"+2"},{"x":0,"x2":1,"y":9.12,"y2":10.12,"v":"+3"},{"x":0,"x2":1,"y":10.12,"y2":11.12,"v":"+4"}]},"mark":{"type":"rect"},"encoding":{"x2":{"field":"x2"},"y2":{"field":"y2"},"color":{"field":"v","type":"nominal","scale":{"domain":["-4","-3","-2","-1","+1","+2","+3","+4","Hel","Eue","EH","DA","Hni"],"range":["#7e1300","#9e1b16","#fe4a2e","#fc8e80","#87e5fb","#33cffb","#2ba7e0","#0b6a8c","#0aaef0","#12326a","#ff3d0d","#e9bd8f","#bdcccc"]},"legend":null}}},
{"data":{"values":[{"x":0.5,"y":2.69,"t":"≤4"},{"x":0.5,"y":3.69,"t":"-3"},{"x":0.5,"y":4.69,"t":"-2"},{"x":0.5,"y":5.69,"t":"-1"},{"x":0.5,"y":7.62,"t":"+1"},{"x":0.5,"y":8.62,"t":"+2"},{"x":0.5,"y":9.62,"t":"+3"},{"x":0.5,"y":10.62,"t":"≥4"}]},"mark":{"type":"text","angle":90,"align":"center","baseline":"middle","fontSize":12,"fontWeight":"bold","fill":"white","font":"Noto Sans"},"encoding":{"text":{"field":"t"}}},
{"data":{"values":[{"x":1.12,"x2":1.49,"y":2.19,"y2":6.19}]},"mark":{"type":"rect","fill":"white","stroke":"#d8736b","strokeWidth":0.7,"cornerRadius":3},"encoding":{"x2":{"field":"x2"},"y2":{"field":"y2"}}},
{"data":{"values":[{"x":1.12,"x2":1.49,"y":7.12,"y2":11.12}]},"mark":{"type":"rect","fill":"white","stroke":"#6fd3ee","strokeWidth":0.7,"cornerRadius":3},"encoding":{"x2":{"field":"x2"},"y2":{"field":"y2"}}},
{"data":{"values":[{"x":1.305,"y":4.19,"t":"#Contracted PFAM OGs"},{"x":1.305,"y":9.12,"t":"#Expanded PFAM OGs"}]},"mark":{"type":"text","angle":90,"align":"center","baseline":"middle","fontSize":4.6,"fontWeight":"bold"},"encoding":{"text":{"field":"t"}}}
]}
],"spacing":0,"bounds":"flush"},
{"hconcat":[
{"width":37,"height":1,"data":{"values":[{"a":1}]},"mark":{"type":"point","opacity":0},"encoding":{}},
{"vconcat":[
{"width":620,"height":80,"encoding":{"x":{"field":"p","type":"quantitative","scale":{"domain":[-0.489,19.739]},"axis":{"values":[0,1,2,3,4,5,6,7,8,9,10,11,12,13,14,15,16,17,18,19],"labels":false,"grid":true,"gridColor":"#e6e6e6"}},"y":{"field":"k","type":"quantitative","scale":{"domain":[0,9.7]},"axis":{"values":[0,1,2,4,6,8],"labelExpr":"datum.value==1||datum.value==4||datum.value==8?datum.value:''","labelFontSize":6,"grid":true,"gridColor":"#e6e6e6","labelPadding":2}}},"layer":[
{"data":{"values":[{"p":0.52,"p2":4.08,"k":4.36,"k2":9.7}]},"mark":{"type":"rect","fill":"white"},"encoding":{"x2":{"field":"p2"},"y2":{"field":"k2"}}},
{"data":{"values":[{"p":1.315,"k":6.42,"s":100},{"p":1.315,"k":5.94,"s":50},{"p":1.315,"k":5.58,"s":25}]},"mark":{"type":"point","filled":false,"stroke":"#777","strokeWidth":0.6,"opacity":1},"encoding":{"size":{"field":"s","type":"quantitative","scale":{"domain":[0,100],"range":[0,590]},"legend":null}}},
{"data":{"name":"pies"},"mark":{"type":"point","filled":true,"fill":"#29abe2","opacity":1,"strokeWidth":0},"encoding":{"size":{"field":"s","type":"quantitative","scale":{"domain":[0,100],"range":[0,590]},"legend":null}}},
{"data":{"name":"pies"},"transform":[{"filter":"datum.a1>0"}],"mark":{"type":"arc","fill":"#a01c18"},"encoding":{"theta":{"field":"a0","type":"quantitative","scale":{"domain":[0,100],"range":[0,6.2832]}},"theta2":{"field":"a1"},"radius":{"field":"s","type":"quantitative","scale":{"type":"sqrt","domain":[0,100],"range":[0,13.7]}}}},
{"data":{"values":[{"p":2.35,"k":7.88,"c":"a"}]},"mark":{"type":"point","filled":true,"fill":"#29abe2","size":70,"opacity":1}},
{"data":{"values":[{"p":2.35,"k":6.18,"c":"a"}]},"mark":{"type":"point","filled":true,"fill":"#a01c18","size":70,"opacity":1}},
{"data":{"values":[{"p":2.61,"k":7.88,"t":"Relaxed ω"},{"p":2.61,"k":6.18,"t":"Intensified ω"}]},"mark":{"type":"text","align":"left","baseline":"middle","fontSize":6.5},"encoding":{"text":{"field":"t"}}},
{"data":{"values":[{"p":1.315,"k":9.7,"t":"% Genes"}]},"mark":{"type":"text","baseline":"middle","fontSize":8.5},"encoding":{"text":{"field":"t"}}},
{"data":{"values":[{"p":1.315,"k":8.48,"t":"100"},{"p":1.315,"k":6.79,"t":"25"}]},"mark":{"type":"text","baseline":"middle","fontSize":6.5},"encoding":{"text":{"field":"t"}}},
{"data":{"values":[{"p":-0.98,"k":3.95,"t":"mean K"}]},"mark":{"type":"text","angle":270,"baseline":"middle","fontSize":6.5},"encoding":{"text":{"field":"t"}}},
{"data":{"values":[{"p":-1.7,"k":1.45,"t":"Intensifying"}]},"mark":{"type":"text","align":"left","baseline":"middle","fontSize":5.2,"fontWeight":"bold"},"encoding":{"text":{"field":"t"}}},
{"data":{"values":[{"p":-1.7,"k":0.48,"t":"Relaxing"}]},"mark":{"type":"text","align":"left","baseline":"middle","fontSize":5.2},"encoding":{"text":{"field":"t"}}},
{"data":{"values":[{"p":-0.3,"k":1.45}]},"mark":{"type":"point","shape":"triangle-up","filled":true,"fill":"#a01c18","size":8,"opacity":1}},
{"data":{"values":[{"p":-0.3,"k":0.48}]},"mark":{"type":"point","shape":"triangle-down","filled":true,"fill":"#29abe2","size":8,"opacity":1}},
{"data":{"values":[{"p":-1.11,"k":10.67,"t":"b"}]},"mark":{"type":"text","baseline":"middle","fontSize":15,"fontWeight":"bold","font":"Open Sans","fill":"#111"},"encoding":{"text":{"field":"t"}}}
]},
{"width":620,"height":141,"encoding":{"x":{"field":"p","type":"quantitative","scale":{"domain":[-0.489,19.739]},"axis":{"values":[0,1,2,3,4,5,6,7,8,9,10,11,12,13,14,15,16,17,18,19],"labels":false,"grid":true,"gridColor":"#e6e6e6"}}},
"resolve":{"scale":{"y":"independent"}},
"layer":[
{"encoding":{"y":{"field":"l","type":"quantitative","scale":{"domain":[0.004,0.00938]},"axis":{"orient":"left","values":[0.004,0.005,0.006,0.007,0.008,0.009],"format":".3f","labelFontSize":7,"labelPadding":5,"grid":true,"gridColor":"#e6e6e6"}}},
"layer":[
{"data":{"name":"ribbon"},"mark":{"type":"area","fill":"#e9cfcf","opacity":0.85},"encoding":{"y2":{"field":"b"}}},
{"data":{"name":"ribbon"},"mark":{"type":"line","stroke":"#c4605a","strokeWidth":1}},
{"data":{"values":[{"p":-1.64,"l":0.00606,"b":0.00606},{"p":-1.28,"l":0.00637,"b":0.00606}]},"mark":{"type":"area","fill":"#e9c4c4"},"encoding":{"y2":{"field":"b"}}},
{"data":{"values":[{"p":-1.435,"l":0.00659,"t":"λ"}]},"mark":{"type":"text","angle":270,"baseline":"middle","fontSize":7.5},"encoding":{"text":{"field":"t"}}},
{"data":{"name":"lab"},"mark":{"type":"text","angle":315,"align":"right","baseline":"middle","fontSize":10.5,"dx":9},"encoding":{"text":{"field":"t"}}},
{"data":{"name":"lab"},"transform":[{"filter":"isValid(datum.t2)"}],"mark":{"type":"text","angle":315,"align":"right","baseline":"middle","fontSize":10.5,"dx":-26,"dy":12},"encoding":{"text":{"field":"t2"}}},
{"data":{"name":"lab"},"mark":{"type":"text","angle":315,"align":"right","baseline":"middle","fontSize":5.5,"dx":11,"dy":10,"fill":"#555"},"encoding":{"text":{"field":"f"}}}
]},
{"encoding":{"y":{"field":"v","type":"quantitative","scale":{"domain":[-0.003,0.542]},"axis":{"orient":"right","values":[0,0.2,0.4],"format":".1~f","labelFontSize":7,"labelPadding":2,"grid":false}}},
"layer":[
{"data":{"name":"viol"},"transform":[{"filter":"datum.g=='H'"}],"mark":{"type":"trail","clip":true,"color":{"x1":0,"y1":0,"x2":0,"y2":1,"gradient":"linear","stops":[{"offset":0,"color":"#9bdcf5"},{"offset":0.45,"color":"#29abe2"},{"offset":1,"color":"#29abe2"}]}},"encoding":{"detail":{"field":"p"},"order":{"field":"v"},"size":{"field":"w","type":"quantitative","scale":null,"legend":null}}},
{"data":{"name":"viol"},"transform":[{"filter":"datum.g=='E'"}],"mark":{"type":"trail","clip":true,"color":{"x1":0,"y1":0,"x2":0,"y2":1,"gradient":"linear","stops":[{"offset":0,"color":"#8a97b8"},{"offset":0.45,"color":"#1b3a7a"},{"offset":1,"color":"#1b3a7a"}]}},"encoding":{"detail":{"field":"p"},"order":{"field":"v"},"size":{"field":"w","type":"quantitative","scale":null,"legend":null}}},
{"data":{"values":[{"p":3.23,"p2":3.49,"v":0.088},{"p":3,"p2":3.72,"v":0.077},{"p":3,"p2":3.72,"v":0.063},{"p":3.23,"p2":3.49,"v":0.049}]},"mark":{"type":"area","orient":"horizontal","fill":"#1b3a7a"},"encoding":{"x2":{"field":"p2"}}},
{"data":{"name":"box"},"mark":{"type":"bar","width":3,"fill":null,"stroke":"white","strokeWidth":0.5},"encoding":{"y":{"field":"q","type":"quantitative","scale":{"domain":[-0.003,0.542]},"axis":null},"y2":{"field":"h"}}},
{"data":{"name":"box"},"mark":{"type":"tick","orient":"horizontal","size":3,"thickness":0.6,"color":"white","opacity":1},"encoding":{"y":{"field":"m","type":"quantitative","scale":{"domain":[-0.003,0.542]},"axis":null}}},
{"data":{"values":[{"p":1,"v":0.272,"t":"**"},{"p":5.03,"v":0.298,"t":"***"},{"p":5.96,"v":0.315,"t":"***"},{"p":6.97,"v":0.479,"t":"**"},{"p":9,"v":0.282,"t":"**"},{"p":16.02,"v":0.418,"t":"*"},{"p":18.96,"v":0.367,"t":"**"}]},"mark":{"type":"text","baseline":"middle","fontSize":12,"dy":3,"fill":"#444"},"encoding":{"text":{"field":"t"}}},
{"data":{"values":[{"p":20.23,"v":0.233,"w":1,"g":"H"},{"p":20.23,"v":0.12,"w":1.5,"g":"H"},{"p":20.23,"v":0.1,"w":3,"g":"H"},{"p":20.23,"v":0.09,"w":4,"g":"H"}]},"mark":{"type":"trail","color":"#29abe2"},"encoding":{"order":{"field":"v"},"size":{"field":"w","type":"quantitative","scale":null,"legend":null}}},
{"data":{"values":[{"p":20.46,"v":0.233,"w":1},{"p":20.46,"v":0.12,"w":1.5},{"p":20.46,"v":0.1,"w":3},{"p":20.46,"v":0.09,"w":4}]},"mark":{"type":"trail","color":"#1b3a7a"},"encoding":{"order":{"field":"v"},"size":{"field":"w","type":"quantitative","scale":null,"legend":null}}},
{"data":{"values":[{"p":20.33,"v":0.31,"t":"ω (dN/dS)"}]},"mark":{"type":"text","angle":270,"baseline":"middle","fontSize":7,"fontStyle":"italic"},"encoding":{"text":{"field":"t"}}},
{"data":{"values":[{"p":20.23,"v":-0.007,"t":"Heliconius"},{"p":20.46,"v":-0.007,"t":"Eueides"}]},"mark":{"type":"text","angle":270,"baseline":"middle","fontSize":5,"fontStyle":"italic"},"encoding":{"text":{"field":"t"}}}
]}
]}
],"spacing":0,"bounds":"flush"}
],"spacing":0,"bounds":"flush"},
{"hconcat":[
{"width":61,"height":1,"data":{"values":[{"a":1}]},"mark":{"type":"point","opacity":0},"encoding":{}},
{"width":180,"height":110,"view":{"stroke":"#dcdcdc"},"encoding":{"x":{"field":"x","type":"quantitative","scale":{"domain":[0,2.093]},"axis":{"values":[0,0.5,1,1.5,2.09],"grid":false,"labelFontSize":5.5,"labelPadding":3,"labelExpr":"datum.value==0?'0.0':datum.value==0.5?'0.5':datum.value==1?'1':datum.value==1.5?'1.5':'2'"}},"y":{"field":"y","type":"quantitative","scale":{"domain":[0,5],"reverse":true},"axis":null}},"layer":[
{"data":{"name":"cv"},"encoding":{"y2":{"field":"y2"}},"layer":[
{"transform":[{"filter":"datum.i==0"}],"mark":{"type":"area","orient":"vertical","color":{"x1":0,"y1":0,"x2":1,"y2":0,"gradient":"linear","stops":[{"offset":0,"color":"#0b3f80"},{"offset":0.7,"color":"#0b3f80"},{"offset":1,"color":"#7a9cc4"}]}}},
{"transform":[{"filter":"datum.i==1"}],"mark":{"type":"area","orient":"vertical","color":{"x1":0,"y1":0,"x2":1,"y2":0,"gradient":"linear","stops":[{"offset":0,"color":"#34527a"},{"offset":0.7,"color":"#34527a"},{"offset":1,"color":"#8ea4c0"}]}}},
{"transform":[{"filter":"datum.i==2"}],"mark":{"type":"area","orient":"vertical","color":{"x1":0,"y1":0,"x2":1,"y2":0,"gradient":"linear","stops":[{"offset":0,"color":"#295f72"},{"offset":0.45,"color":"#295f72"},{"offset":1,"color":"#b8d0d8"}]}}},
{"transform":[{"filter":"datum.i==3"}],"mark":{"type":"area","orient":"vertical","color":{"x1":0,"y1":0,"x2":1,"y2":0,"gradient":"linear","stops":[{"offset":0,"color":"#3c7d87"},{"offset":0.5,"color":"#3c7d87"},{"offset":1,"color":"#b8d4d8"}]}}},
{"transform":[{"filter":"datum.i==4"}],"mark":{"type":"area","orient":"vertical","color":{"x1":0,"y1":0,"x2":1,"y2":0,"gradient":"linear","stops":[{"offset":0,"color":"#62a6ac"},{"offset":0.4,"color":"#62a6ac"},{"offset":1,"color":"#dcebec"}]}}}
]},
{"data":{"name":"cb"},"transform":[{"filter":"datum.k=='w'"}],"mark":{"type":"rule","stroke":"white","strokeWidth":0.4,"opacity":0.8},"encoding":{"x2":{"field":"x2"},"y2":{"field":"y2"}}},
{"data":{"name":"cb"},"transform":[{"filter":"datum.k=='b'"}],"mark":{"type":"rect","fill":null,"stroke":"white","strokeWidth":0.5},"encoding":{"x2":{"field":"x2"},"y2":{"field":"y2"}}},
{"data":{"values":[{"x":1.267,"y":0.226,"t":"n = 34 / Median = 0.393"},{"x":0.891,"y":1.17,"t":"n = 20 / Median = 0.244"},{"x":0.756,"y":2.12,"t":"n = 170 / Median = 0.260"},{"x":0.55,"y":3.27,"t":"n = 104 / Median = 0.180"},{"x":0.326,"y":4.32,"t":"n = 3041 / Median = 0.072"}]},"mark":{"type":"text","align":"left","baseline":"middle","fontSize":6.5},"encoding":{"text":{"field":"t"}}},
{"data":{"values":[{"x":-0.031,"y":0.5,"t":"Eueides + Heliconius"},{"x":-0.031,"y":1.5,"t":"Dione + Agraulis|Eueides + Heliconius"}]},"mark":{"type":"text","align":"right","baseline":"middle","fontSize":5.5,"fontStyle":"italic","lineBreak":"|","lineHeight":7.5},"encoding":{"text":{"field":"t"}}},
{"data":{"values":[{"x":-0.031,"y":2.5,"t":"Heliconiini"},{"x":-0.031,"y":3.5,"t":"Heliconiinae"},{"x":-0.031,"y":4.5,"t":"Nymphalidae"}]},"mark":{"type":"text","align":"right","baseline":"middle","fontSize":6},"encoding":{"text":{"field":"t"}}},
{"data":{"values":[{"x":-0.64,"y":3.2,"t":"Taxa specific scOG"}]},"mark":{"type":"text","angle":270,"baseline":"middle","fontSize":8},"encoding":{"text":{"field":"t"}}},
{"data":{"values":[{"x":0.99,"y":5.7,"t":"ω (dN/dS)"}]},"mark":{"type":"text","baseline":"middle","fontSize":7.5,"fontStyle":"italic"},"encoding":{"text":{"field":"t"}}},
{"data":{"values":[{"x":-0.51,"y":-0.44,"t":"c"}]},"mark":{"type":"text","baseline":"middle","fontSize":15,"fontWeight":"bold","font":"Open Sans","fill":"#111"},"encoding":{"text":{"field":"t"}}}
]},
{"width":63,"height":1,"data":{"values":[{"a":1}]},"mark":{"type":"point","opacity":0},"encoding":{}},
{"width":180.7,"height":111.3,"view":{"stroke":"#dcdcdc"},"encoding":{"x":{"field":"x","type":"quantitative","scale":{"domain":[0,1.004]},"axis":{"values":[0,0.25,0.5,0.75,1],"format":".2f","grid":false,"labelFontSize":5.5,"labelPadding":3}},"y":{"field":"y","type":"quantitative","scale":{"domain":[0,5.25],"reverse":true},"axis":null}},"layer":[
{"data":{"name":"dv"},"encoding":{"y2":{"field":"y2"}},"layer":[
{"transform":[{"filter":"datum.i==0"}],"mark":{"type":"area","orient":"vertical","color":{"x1":0,"y1":0,"x2":1,"y2":0,"gradient":"linear","stops":[{"offset":0,"color":"#0aaef0"},{"offset":0.25,"color":"#0aaef0"},{"offset":0.6,"color":"#b4e6fa"},{"offset":1,"color":"#e4f6fd"}]}}},
{"transform":[{"filter":"datum.i==1"}],"mark":{"type":"area","orient":"vertical","color":{"x1":0,"y1":0,"x2":1,"y2":0,"gradient":"linear","stops":[{"offset":0,"color":"#12326a"},{"offset":0.25,"color":"#12326a"},{"offset":1,"color":"#9aa8c4"}]}}},
{"transform":[{"filter":"datum.i==2"}],"mark":{"type":"area","orient":"vertical","color":{"x1":0,"y1":0,"x2":1,"y2":0,"gradient":"linear","stops":[{"offset":0,"color":"#ff3d0d"},{"offset":0.2,"color":"#ff3d0d"},{"offset":0.6,"color":"#fbb9a6"},{"offset":1,"color":"#fde2da"}]}}},
{"transform":[{"filter":"datum.i==3"}],"mark":{"type":"area","orient":"vertical","color":{"x1":0,"y1":0,"x2":1,"y2":0,"gradient":"linear","stops":[{"offset":0,"color":"#e9bd8f"},{"offset":0.25,"color":"#e9bd8f"},{"offset":1,"color":"#f8ecdd"}]}}},
{"transform":[{"filter":"datum.i==4"}],"mark":{"type":"area","orient":"vertical","color":{"x1":0,"y1":0,"x2":1,"y2":0,"gradient":"linear","stops":[{"offset":0,"color":"#bdcccc"},{"offset":0.35,"color":"#bdcccc"},{"offset":1,"color":"#8aa0a0"}]}}}
]},
{"data":{"name":"db"},"transform":[{"filter":"datum.k=='w'"}],"mark":{"type":"rule","stroke":"white","strokeWidth":0.4,"opacity":0.8},"encoding":{"x2":{"field":"x2"},"y2":{"field":"y2"}}},
{"data":{"name":"db"},"transform":[{"filter":"datum.k=='b'"}],"mark":{"type":"rect","fill":null,"stroke":"white","strokeWidth":0.5,"opacity":0.8},"encoding":{"x2":{"field":"x2"},"y2":{"field":"y2"}}},
{"data":{"values":[{"x":0.159,"y":0.34,"t":"n = 3,163 / Median = 0.062"},{"x":0.159,"y":1.4,"t":"n = 3,276 / Median = 0.065"},{"x":0.159,"y":2.42,"t":"n = 3,018 / Median = 0.051"},{"x":0.159,"y":3.41,"t":"n = 2,317 / Median = 0.049"},{"x":0.159,"y":4.48,"t":"n = 2,829 / Median = 0.083"}]},"mark":{"type":"text","align":"left","baseline":"middle","fontSize":6.5},"encoding":{"text":{"field":"t"}}},
{"data":{"values":[{"x":0.622,"y":0.34,"b":"Hel"},{"x":0.678,"y":0.34,"b":"EH"},{"x":0.713,"y":0.34,"b":"DA"},{"x":0.622,"y":1.4,"b":"Eue"},{"x":0.678,"y":1.4,"b":"EH"},{"x":0.713,"y":1.4,"b":"DA"},{"x":0.622,"y":4.48,"b":"Hni"},{"x":0.678,"y":4.48,"b":"Hel"},{"x":0.711,"y":4.48,"b":"Eue"},{"x":0.746,"y":4.48,"b":"EH"},{"x":0.78,"y":4.48,"b":"DA"}]},"mark":{"type":"point","filled":true,"size":18,"opacity":1},"encoding":{"color":{"field":"b","type":"nominal","scale":{"domain":["-4","-3","-2","-1","+1","+2","+3","+4","Hel","Eue","EH","DA","Hni"],"range":["#7e1300","#9e1b16","#fe4a2e","#fc8e80","#87e5fb","#33cffb","#2ba7e0","#0b6a8c","#0aaef0","#12326a","#ff3d0d","#e9bd8f","#bdcccc"]},"legend":null}}},
{"data":{"values":[{"x":0.65,"y":0.34,"t":">"},{"x":0.65,"y":1.4,"t":">"},{"x":0.65,"y":4.48,"t":">"}]},"mark":{"type":"text","baseline":"middle","fontSize":5.5},"encoding":{"text":{"field":"t"}}},
{"data":{"values":[{"x":0.737,"y":0.34,"t":"P-adj < 0.01"},{"x":0.737,"y":1.4,"t":"P-adj < 3.4e-06"},{"x":0.8,"y":4.48,"t":"P-adj < 2.2e-15"}]},"mark":{"type":"text","align":"left","baseline":"middle","fontSize":5},"encoding":{"text":{"field":"t"}}},
{"data":{"values":[{"x":-0.018,"y":0.66,"t":"Heliconius"},{"x":-0.018,"y":1.66,"t":"Eueides"},{"x":-0.018,"y":2.66,"t":"Eueides +|Heliconius"},{"x":-0.018,"y":3.66,"t":"Dione + Agraulis|Eueides + Heliconius"}]},"mark":{"type":"text","align":"right","baseline":"middle","fontSize":5.5,"fontStyle":"italic","lineBreak":"|","lineHeight":7.5},"encoding":{"text":{"field":"t"}}},
{"data":{"values":[{"x":-0.018,"y":4.66,"t":"Heliconiini"}]},"mark":{"type":"text","align":"right","baseline":"middle","fontSize":5.5},"encoding":{"text":{"field":"t"}}},
{"data":{"values":[{"x":-0.268,"y":2.62,"t":"Branch"}]},"mark":{"type":"text","angle":270,"baseline":"middle","fontSize":8},"encoding":{"text":{"field":"t"}}},
{"data":{"values":[{"x":0.51,"y":5.93,"t":"ω (dN/dS)"}]},"mark":{"type":"text","baseline":"middle","fontSize":7.5,"fontStyle":"italic"},"encoding":{"text":{"field":"t"}}},
{"data":{"values":[{"x":-0.089,"y":-0.46,"t":"d"}]},"mark":{"type":"text","baseline":"middle","fontSize":15,"fontWeight":"bold","font":"Open Sans","fill":"#111"},"encoding":{"text":{"field":"t"}}}
]},
{"width":13.6,"height":1,"data":{"values":[{"a":1}]},"mark":{"type":"point","opacity":0},"encoding":{}},
{"width":181,"height":111.3,"view":{"stroke":"#dcdcdc"},"encoding":{"x":{"field":"x","type":"quantitative","scale":{"domain":[0,0.504]},"axis":{"values":[0,0.2,0.4],"format":".1f","grid":false,"labelFontSize":5.5,"labelPadding":3}},"y":{"field":"y","type":"quantitative","scale":{"domain":[0,5.25],"reverse":true},"axis":null}},"layer":[
{"data":{"name":"ev"},"encoding":{"y2":{"field":"y2"}},"layer":[
{"transform":[{"filter":"datum.i==0"}],"mark":{"type":"area","orient":"vertical","color":{"x1":0,"y1":0,"x2":1,"y2":0,"gradient":"linear","stops":[{"offset":0,"color":"#0aaef0"},{"offset":0.4,"color":"#0aaef0"},{"offset":1,"color":"#8ddcf8"}]}}},
{"transform":[{"filter":"datum.i==1"}],"mark":{"type":"area","orient":"vertical","color":{"x1":0,"y1":0,"x2":1,"y2":0,"gradient":"linear","stops":[{"offset":0,"color":"#12326a"},{"offset":0.3,"color":"#12326a"},{"offset":1,"color":"#9aa8c4"}]}}},
{"transform":[{"filter":"datum.i==2"}],"mark":{"type":"area","orient":"vertical","color":{"x1":0,"y1":0,"x2":1,"y2":0,"gradient":"linear","stops":[{"offset":0,"color":"#ff3d0d"},{"offset":0.4,"color":"#ff3d0d"},{"offset":1,"color":"#fdb9a6"}]}}},
{"transform":[{"filter":"datum.i==3"}],"mark":{"type":"area","orient":"vertical","color":{"x1":0,"y1":0,"x2":1,"y2":0,"gradient":"linear","stops":[{"offset":0,"color":"#e9bd8f"},{"offset":0.3,"color":"#e9bd8f"},{"offset":1,"color":"#f8ecdd"}]}}},
{"transform":[{"filter":"datum.i==4"}],"mark":{"type":"area","orient":"vertical","color":{"x1":0,"y1":0,"x2":1,"y2":0,"gradient":"linear","stops":[{"offset":0,"color":"#bdcccc"},{"offset":0.4,"color":"#bdcccc"},{"offset":1,"color":"#dfe8e8"}]}}}
]},
{"data":{"name":"eb"},"transform":[{"filter":"datum.k=='w'"}],"mark":{"type":"rule","stroke":"white","strokeWidth":0.4,"opacity":0.8},"encoding":{"x2":{"field":"x2"},"y2":{"field":"y2"}}},
{"data":{"name":"eb"},"transform":[{"filter":"datum.k=='b'"}],"mark":{"type":"rect","fill":null,"stroke":"white","strokeWidth":0.5,"opacity":0.8},"encoding":{"x2":{"field":"x2"},"y2":{"field":"y2"}}},
{"data":{"values":[{"x":0.116,"y":0.34,"t":"Median = 0.018"},{"x":0.116,"y":1.4,"t":"Median = 0.026"},{"x":0.116,"y":2.42,"t":"Median = 0.018"},{"x":0.116,"y":3.41,"t":"Median = 0.014"},{"x":0.116,"y":4.3,"t":"Median = 0.043"}]},"mark":{"type":"text","align":"left","baseline":"middle","fontSize":6.5},"encoding":{"text":{"field":"t"}}},
{"data":{"values":[{"x":0.288,"y":0.3,"b":"Hel"},{"x":0.312,"y":0.3,"b":"DA"},{"x":0.288,"y":1.32,"b":"Eue"},{"x":0.312,"y":1.32,"b":"Hel"},{"x":0.327,"y":1.32,"b":"EH"},{"x":0.342,"y":1.32,"b":"DA"},{"x":0.288,"y":2.42,"b":"EH"},{"x":0.312,"y":2.42,"b":"DA"},{"x":0.288,"y":4.21,"b":"Hni"},{"x":0.312,"y":4.21,"b":"Hel"},{"x":0.327,"y":4.21,"b":"Eue"},{"x":0.342,"y":4.21,"b":"EH"},{"x":0.357,"y":4.21,"b":"DA"}]},"mark":{"type":"point","filled":true,"size":15,"opacity":1},"encoding":{"color":{"field":"b","type":"nominal","scale":{"domain":["-4","-3","-2","-1","+1","+2","+3","+4","Hel","Eue","EH","DA","Hni"],"range":["#7e1300","#9e1b16","#fe4a2e","#fc8e80","#87e5fb","#33cffb","#2ba7e0","#0b6a8c","#0aaef0","#12326a","#ff3d0d","#e9bd8f","#bdcccc"]},"legend":null}}},
{"data":{"values":[{"x":0.3,"y":0.3,"t":">"},{"x":0.3,"y":1.32,"t":">"},{"x":0.3,"y":2.42,"t":">"},{"x":0.3,"y":4.21,"t":">"}]},"mark":{"type":"text","baseline":"middle","fontSize":5.5},"encoding":{"text":{"field":"t"}}},
{"data":{"values":[{"x":0.322,"y":0.3,"t":"P-adj = 3.1e-03"},{"x":0.353,"y":1.32,"t":"P-adj < 7.7e-03"},{"x":0.322,"y":2.42,"t":"P-adj = 4.2e-03"},{"x":0.367,"y":4.21,"t":"P-adj < 1.2e-14"}]},"mark":{"type":"text","align":"left","baseline":"middle","fontSize":5},"encoding":{"text":{"field":"t"}}},
{"data":{"values":[{"x":0.25,"y":5.76,"t":"Percentage ω > 1"}]},"mark":{"type":"text","baseline":"middle","fontSize":6.5},"encoding":{"text":{"field":"t"}}}
]}
],"spacing":0,"bounds":"flush"}
]}
